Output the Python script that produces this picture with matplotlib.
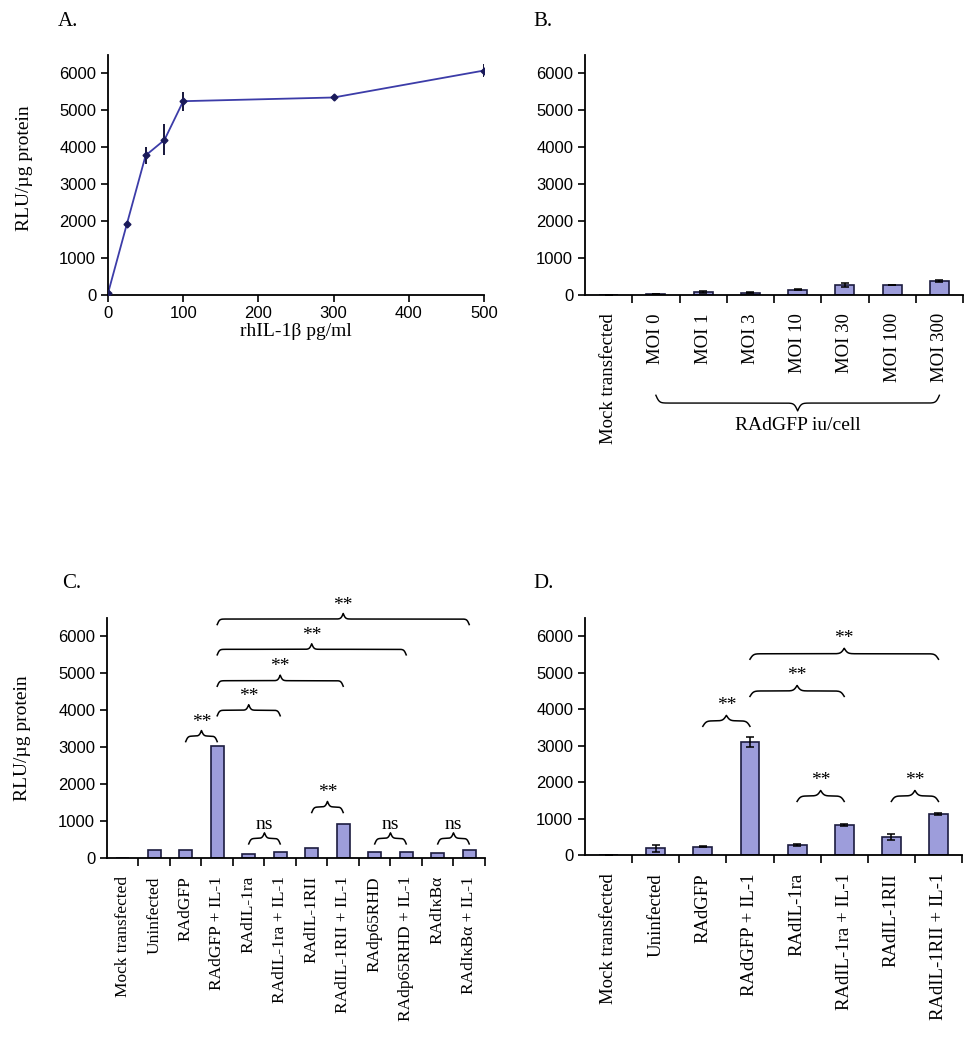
import numpy as np
import matplotlib.pyplot as plt
from matplotlib import transforms

plt.rcParams['font.family'] = ['Liberation Serif', 'DejaVu Serif']

# A: dose response to rhIL-1b
dose = [0, 25, 50, 75, 100, 300, 500]
rlu_a = [50, 1920, 3780, 4200, 5250, 5350, 6080]
err_a = [60, 60, 220, 420, 260, 60, 170]

# B: RAdGFP dose
cats_b = ["Mock transfected", "MOI 0", "MOI 1", "MOI 3", "MOI 10",
          "MOI 30", "MOI 100", "MOI 300"]
rlu_b = [0, 20, 80, 60, 150, 270, 270, 380]
err_b = [0, 5, 30, 10, 10, 60, 10, 20]

# C
cats_c = ["Mock transfected", "Uninfected", "RAdGFP", "RAdGFP + IL-1",
          "RAdIL-1ra", "RAdIL-1ra + IL-1", "RAdIL-1RII", "RAdIL-1RII + IL-1",
          "RAdp65RHD", "RAdp65RHD + IL-1", "RAdIκBα", "RAdIκBα + IL-1"]
rlu_c = [0, 225, 225, 3030, 117, 162, 270, 926, 162, 162, 126, 225]

# D
cats_d = ["Mock transfected", "Uninfected", "RAdGFP", "RAdGFP + IL-1",
          "RAdIL-1ra", "RAdIL-1ra + IL-1", "RAdIL-1RII", "RAdIL-1RII + IL-1"]
rlu_d = [0, 185, 230, 3110, 265, 825, 505, 1125]
err_d = [0, 90, 10, 140, 25, 20, 80, 25]

# significance braces: (from, to, brace level, label)
sig_c = [(2, 3, 3300, "**"), (3, 5, 4000, "**"), (3, 7, 4800, "**"),
         (3, 9, 5650, "**"), (3, 11, 6470, "**"), (4, 5, 530, "ns"),
         (6, 7, 1380, "**"), (8, 9, 530, "ns"), (10, 11, 530, "ns")]
sig_d = [(2, 3, 3680, "**"), (3, 5, 4500, "**"), (3, 7, 5520, "**"),
         (4, 5, 1620, "**"), (6, 7, 1620, "**")]

bar_col = '#9d9ddb'
edge_col = '#1c1c40'


def brace(ax, x1, x2, y, h, trans=None, lw=1.1):
    # curly brace, tip up if h > 0
    trans = trans or ax.transData
    n = 801
    xs = np.linspace(x1, x2, n)
    half = xs[:n // 2 + 1]
    beta = 28.0
    yh = (1 / (1 + np.exp(-beta * (half - half[0])))
          + 1 / (1 + np.exp(-beta * (half - half[-1]))))
    yy = np.concatenate([yh, yh[-2::-1]])
    ax.plot(xs, y + (yy - 1) * h, color='black', lw=lw,
            transform=trans, clip_on=False)


def style(ax):
    for s in ['top', 'right']:
        ax.spines[s].set_visible(False)
    for s in ['left', 'bottom']:
        ax.spines[s].set_linewidth(1.3)
    ax.set_ylim(0, 6500)
    ax.set_yticks(range(0, 7000, 1000))
    ax.tick_params(axis='y', direction='out', length=5, width=1.2,
                   labelsize=12, labelfontfamily='Liberation Sans')


def bars(ax, cats, vals, errs=None, fs=13.5):
    x = np.arange(len(cats))
    ax.bar(x, vals, width=0.4, color=bar_col, edgecolor=edge_col,
           linewidth=1.2, zorder=2)
    if errs is not None:
        ax.errorbar(x, vals, yerr=errs, fmt='none', ecolor='black',
                    elinewidth=1.1, capsize=3, capthick=1.1, zorder=3)
    ax.set_xlim(-0.5, len(cats) - 0.5)
    ax.set_xticks(x)
    ax.set_xticklabels(cats, rotation=90, fontsize=fs)
    ax.set_xticks(np.arange(0.5, len(cats), 1.0), minor=True)
    ax.tick_params(axis='x', which='major', length=0, pad=13)
    ax.tick_params(axis='x', which='minor', direction='out', length=6, width=1.2)
    style(ax)


fig = plt.figure(figsize=(9.75, 10.5), dpi=100)
axA = fig.add_axes([0.1108, 0.7190, 0.3856, 0.2286])
axB = fig.add_axes([0.6000, 0.7190, 0.3877, 0.2286])
axC = fig.add_axes([0.1097, 0.1829, 0.3877, 0.2286])
axD = fig.add_axes([0.6000, 0.1857, 0.3867, 0.2257])

# A
axA.plot(dose, rlu_a, color='#3c3ca8', lw=1.3, zorder=2)
axA.errorbar(dose, rlu_a, yerr=err_a, fmt='none', ecolor='#15153a',
             elinewidth=1.4, capsize=0, zorder=3)
axA.plot(dose, rlu_a, 'D', color='#1a1a5a', ms=3.5, zorder=4)
axA.set_xlim(0, 500)
axA.set_xticks(range(0, 600, 100))
axA.tick_params(axis='x', direction='out', length=5, width=1.2, labelsize=12,
                labelfontfamily='Liberation Sans', pad=3)
style(axA)
axA.set_xlabel("rhIL-1β pg/ml", fontsize=14, labelpad=1)
axA.set_ylabel("RLU/µg protein", fontsize=14)
axA.yaxis.set_label_coords(-0.20, 0.53)

# B
bars(axB, cats_b, rlu_b, err_b)
tB = transforms.blended_transform_factory(axB.transData, axB.transAxes)
brace(axB, 1, 7, -0.45, -0.065, trans=tB, lw=1.0)
axB.text(4, -0.545, "RAdGFP iu/cell", transform=tB, ha='center', va='center',
         fontsize=14)

# C
bars(axC, cats_c, rlu_c, fs=12.5)
axC.set_ylabel("RLU/µg protein", fontsize=14)
axC.yaxis.set_label_coords(-0.20, 0.50)
for i, j, y, lab in sig_c:
    brace(axC, i, j, y, 300)
    axC.text((i + j) / 2, y + 380, lab, ha='center', va='center',
             fontsize=14, clip_on=False)

# D
bars(axD, cats_d, rlu_d, err_d)
for i, j, y, lab in sig_d:
    brace(axD, i, j, y, 300)
    axD.text((i + j) / 2, y + 430, lab, ha='center', va='center',
             fontsize=14, clip_on=False)

# panel letters
fig.text(58 / 975, 1 - 22 / 1050, "A.", fontsize=15, va='center')
fig.text(533 / 975, 1 - 22 / 1050, "B.", fontsize=15, va='center')
fig.text(62 / 975, 1 - 583 / 1050, "C.", fontsize=15, va='center')
fig.text(533 / 975, 1 - 583 / 1050, "D.", fontsize=15, va='center')

fig.savefig("out.png", dpi=100)
